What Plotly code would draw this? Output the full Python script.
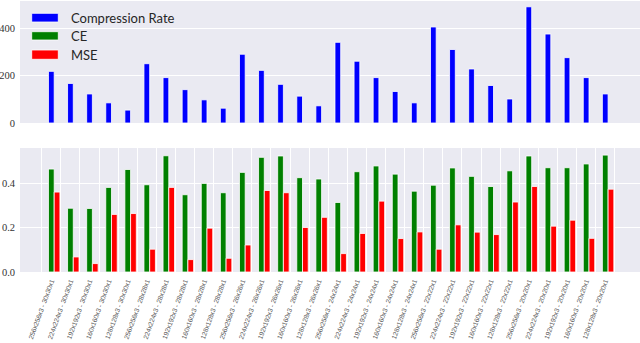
import plotly.graph_objects as go
from plotly.subplots import make_subplots

# 输入尺寸 - 输出尺寸
labels = [
    "256x256x3 - 30x30x1", "224x224x3 - 30x30x1", "192x192x3 - 30x30x1", "160x160x3 - 30x30x1", "128x128x3 - 30x30x1",
    "256x256x3 - 28x28x1", "224x224x3 - 28x28x1", "192x192x3 - 28x28x1", "160x160x3 - 28x28x1", "128x128x3 - 28x28x1",
    "256x256x3 - 26x26x1", "224x224x3 - 26x26x1", "192x192x3 - 26x26x1", "160x160x3 - 26x26x1", "128x128x3 - 26x26x1",
    "256x256x3 - 24x24x1", "224x224x3 - 24x24x1", "192x192x3 - 24x24x1", "160x160x3 - 24x24x1", "128x128x3 - 24x24x1",
    "256x256x3 - 22x22x1", "224x224x3 - 22x22x1", "192x192x3 - 22x22x1", "160x160x3 - 22x22x1", "128x128x3 - 22x22x1",
    "256x256x3 - 20x20x1", "224x224x3 - 20x20x1", "192x192x3 - 20x20x1", "160x160x3 - 20x20x1", "128x128x3 - 20x20x1",
]

compression_rate = [
    218.5, 167.3, 122.9, 85.3, 54.6,
    250.8, 192.0, 141.1, 98.0, 62.7,
    290.8, 222.7, 163.6, 113.6, 72.7,
    341.3, 261.3, 192.0, 133.3, 85.3,
    406.2, 311.0, 228.5, 158.7, 101.6,
    491.5, 376.3, 276.5, 192.0, 122.9,
]

ce = [
    0.465, 0.288, 0.287, 0.382, 0.463,
    0.394, 0.525, 0.349, 0.400, 0.358,
    0.450, 0.518, 0.524, 0.426, 0.420,
    0.314, 0.453, 0.479, 0.442, 0.365,
    0.392, 0.470, 0.432, 0.386, 0.457,
    0.524, 0.471, 0.471, 0.488, 0.528,
]

mse = [
    0.361, 0.068, 0.038, 0.260, 0.264,
    0.103, 0.382, 0.056, 0.198, 0.062,
    0.122, 0.368, 0.358, 0.201, 0.247,
    0.083, 0.174, 0.320, 0.151, 0.181,
    0.103, 0.213, 0.180, 0.169, 0.316,
    0.386, 0.207, 0.234, 0.152, 0.374,
]

W, H = 640, 343
ML, MR, MT, MB = 20, 0, 1, 71
PW, PH = W - ML - MR, H - MT - MB
BG = "#EAEAF2"
BAR_LINE = dict(color="white", width=0.8)


def px_x(x):
    return (x - ML) / PW


def px_y(y):
    return (H - MB - y) / PH


fig = make_subplots(rows=2, cols=1, vertical_spacing=0.0)

fig.add_trace(go.Bar(x=labels, y=compression_rate, width=0.3, offset=-0.15,
                     marker=dict(color="#0000FF", line=BAR_LINE), name="Compression Rate"), row=1, col=1)
fig.add_trace(go.Bar(x=labels, y=ce, width=0.3, offset=-0.15,
                     marker=dict(color="#008000", line=BAR_LINE), name="CE"), row=2, col=1)
fig.add_trace(go.Bar(x=labels, y=mse, width=0.3, offset=0.15,
                     marker=dict(color="#FF0000", line=BAR_LINE), name="MSE"), row=2, col=1)

xr = [-1.64, 30.82]
tickfont = dict(family="Liberation Serif", size=10.5, color="#333")

fig.update_layout(
    width=W, height=H, showlegend=False, barmode="overlay",
    margin=dict(l=ML, r=MR, t=MT, b=MB, autoexpand=False),
    paper_bgcolor="white", plot_bgcolor=BG,
    xaxis=dict(domain=[0, 1], range=xr, showticklabels=False, showgrid=False, zeroline=False,
               ticks="", automargin=False),
    yaxis=dict(domain=[px_y(123), px_y(1)], range=[0, 516], tickvals=[0, 200, 400],
               showgrid=True, gridcolor="white", gridwidth=1, zeroline=False, automargin=False,
               tickfont=tickfont, ticks="", ticklabelstandoff=4),
    xaxis2=dict(domain=[0, 1], range=xr, tickson="boundaries", showgrid=True, gridcolor="white",
                gridwidth=1, zeroline=False, ticks="", tickangle=-70, automargin=False,
                tickfont=dict(family="Liberation Sans", size=6.6, color="#555"), ticklabelstandoff=3),
    yaxis2=dict(domain=[0, px_y(148)], range=[0, 0.56], tickvals=[0, 0.2, 0.4], tickformat=".1f",
                showgrid=True, gridcolor="white", gridwidth=1, zeroline=False, automargin=False,
                tickfont=tickfont, ticks="", ticklabelstandoff=4),
)

# 图例 (放在上图左上角)
legend_items = [("Compression Rate", "#0000FF", 13.3, 22.0),
                ("CE", "#008000", 31.7, 40.0),
                ("MSE", "#FF0000", 50.0, 59.3)]
for name, color, y0, y1 in legend_items:
    fig.add_shape(type="rect", xref="paper", yref="paper",
                  x0=px_x(31.7), x1=px_x(58.3), y0=px_y(y1), y1=px_y(y0),
                  fillcolor=color, line=dict(color="white", width=0.8))
    fig.add_annotation(xref="paper", yref="paper", x=px_x(68.5), y=px_y((y0 + y1) / 2),
                       text=name, showarrow=False, xanchor="left", yanchor="middle",
                       font=dict(family="Lato", size=13, color="#262626"))

# 去掉页面默认的 8px 边距, 不显示工具栏
fig.write_html("out.html", config={"displayModeBar": False},
               post_script="document.body.style.margin='0';")
